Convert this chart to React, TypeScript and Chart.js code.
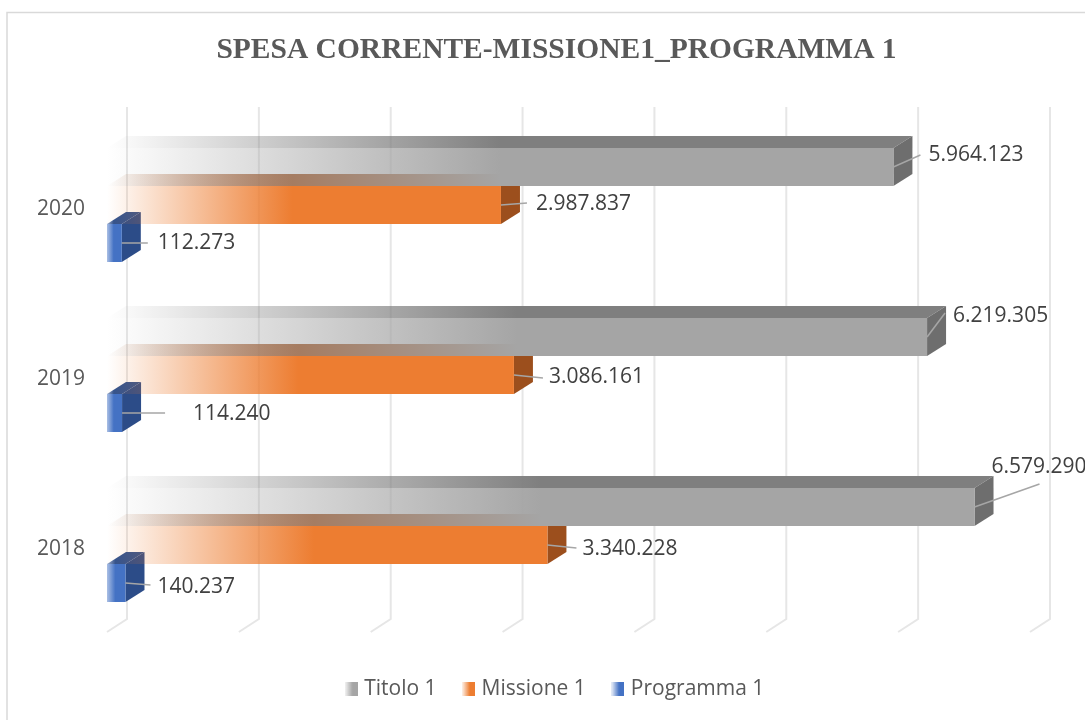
import React, { useEffect, useRef } from 'react';
import { Chart, registerables } from 'chart.js';

Chart.register(...registerables);

// ---- data ----
const chartTitle = 'SPESA CORRENTE-MISSIONE1_PROGRAMMA 1';
const categories = ['2020', '2019', '2018'];
const seriesNames = ['Titolo 1', 'Missione 1', 'Programma 1'];
const titolo = [5964123, 6219305, 6579290];
const missione = [2987837, 3086161, 3340228];
const programma = [112273, 114240, 140237];
const axisMax = 7000000;
const axisStep = 1000000;

// ---- styles ----
const seriesStyle = [
  { rgb: '165,165,165', top: '127,127,127', side: '#6E6E6E', alpha0: 0, solidAt: 0.5 },
  { rgb: '237,125,49', top: '165,88,38', side: '#9C4F1D', alpha0: 0, solidAt: 0.47 },
  { rgb: '68,114,196', top: '47,82,143', side: '#2C4C88', alpha0: 0.45, solidAt: 0.45 },
];
const DEPTH_X = 19;
const DEPTH_Y = -12;
const GRID_DX = 20;
const GRID_DY = -13;

// label placement per [series][category]: text start (dx,dy) and leader end (lx,ly), relative to bar end
const labelPlacement = [
  [{ dx: 35, dy: -12, lx: 27, ly: -12 }, { dx: 26, dy: -21, lx: 18, ly: -24 }, { dx: 17, dy: -40, lx: 65, ly: -23 }],
  [{ dx: 35, dy: -1, lx: 26, ly: -2 }, { dx: 35, dy: 2, lx: 29, ly: 3 }, { dx: 35, dy: 4, lx: 29, ly: 3 }],
  [{ dx: 36, dy: 0, lx: 26, ly: 0 }, { dx: 71, dy: 1, lx: 43, ly: 0 }, { dx: 32, dy: 4, lx: 25, ly: 2 }],
];

const fmt = (v: number) => String(v).replace(/\B(?=(\d{3})+(?!\d))/g, '.');

function fade(ctx: CanvasRenderingContext2D, x0: number, x1: number, rgb: string, a0: number, solidAt: number): any {
  if (!isFinite(x0) || !isFinite(x1) || Math.abs(x1 - x0) < 0.5) return `rgb(${rgb})`;
  const g = ctx.createLinearGradient(x0, 0, x1, 0);
  g.addColorStop(0, `rgba(${rgb},${a0})`);
  g.addColorStop(solidAt, `rgba(${rgb},1)`);
  g.addColorStop(1, `rgba(${rgb},1)`);
  return g;
}

function makeMarker(rgb: string) {
  const c = document.createElement('canvas');
  c.width = 13;
  c.height = 14;
  const cx = c.getContext('2d')!;
  const g = cx.createLinearGradient(0, 0, 13, 0);
  g.addColorStop(0, `rgba(${rgb},0.1)`);
  g.addColorStop(0.6, `rgba(${rgb},1)`);
  g.addColorStop(1, `rgba(${rgb},1)`);
  cx.fillStyle = g;
  cx.fillRect(0, 0, 13, 14);
  return c;
}

const threeD = {
  id: 'threeD',
  beforeDraw(chart: any) {
    const ctx = chart.ctx;
    ctx.save();
    ctx.fillStyle = '#ffffff';
    ctx.fillRect(0, 0, chart.width, chart.height);
    ctx.strokeStyle = '#D9D9D9';
    ctx.lineWidth = 1.5;
    ctx.strokeRect(7, 12.5, 2000, 2000);
    ctx.restore();
  },
  beforeDatasetsDraw(chart: any) {
    const ctx = chart.ctx;
    const xs = chart.scales.x;
    const { top, bottom } = chart.chartArea;
    ctx.save();
    // back-wall gridlines with floor foot
    ctx.strokeStyle = '#E6E6E6';
    ctx.lineWidth = 2;
    xs.ticks.forEach((t: any) => {
      const xf = xs.getPixelForValue(t.value);
      ctx.beginPath();
      ctx.moveTo(xf + GRID_DX, top + GRID_DY);
      ctx.lineTo(xf + GRID_DX, bottom + GRID_DY + 2);
      ctx.lineTo(xf, bottom + 2);
      ctx.stroke();
    });
    // top and side faces
    chart.data.datasets.forEach((ds: any, i: number) => {
      const meta = chart.getDatasetMeta(i);
      const st = seriesStyle[i];
      meta.data.forEach((el: any) => {
        const { x, y, base, height } = el.getProps(['x', 'y', 'base', 'height'], true);
        const t = y - height / 2;
        const b = y + height / 2;
        ctx.beginPath();
        ctx.moveTo(base, t);
        ctx.lineTo(base + DEPTH_X, t + DEPTH_Y);
        ctx.lineTo(x + DEPTH_X, t + DEPTH_Y);
        ctx.lineTo(x, t);
        ctx.closePath();
        ctx.fillStyle = fade(ctx, base, x, st.top, st.alpha0, st.solidAt);
        ctx.fill();
        ctx.beginPath();
        ctx.moveTo(x, t);
        ctx.lineTo(x + DEPTH_X, t + DEPTH_Y);
        ctx.lineTo(x + DEPTH_X, b + DEPTH_Y);
        ctx.lineTo(x, b);
        ctx.closePath();
        ctx.fillStyle = st.side;
        ctx.fill();
      });
    });
    ctx.restore();
  },
  afterDatasetsDraw(chart: any) {
    const ctx = chart.ctx;
    ctx.save();
    ctx.font = '21px "Open Sans"';
    ctx.textBaseline = 'middle';
    ctx.textAlign = 'left';
    chart.data.datasets.forEach((ds: any, i: number) => {
      const meta = chart.getDatasetMeta(i);
      meta.data.forEach((el: any, j: number) => {
        const { x, y } = el.getProps(['x', 'y'], true);
        const p = labelPlacement[i][j];
        ctx.strokeStyle = '#A6A6A6';
        ctx.lineWidth = 1.5;
        ctx.beginPath();
        ctx.moveTo(x, y);
        ctx.lineTo(x + p.lx, y + p.ly);
        ctx.stroke();
        ctx.fillStyle = '#404040';
        ctx.fillText(fmt(ds.data[j]), x + p.dx, y + p.dy);
      });
    });
    ctx.restore();
  },
};

export default function App() {
  const ref = useRef<HTMLCanvasElement>(null);
  useEffect(() => {
    const markers = seriesStyle.map((s) => makeMarker(s.rgb));
    const seriesValues = [titolo, missione, programma];
    const datasets = seriesNames.map((name, i) => ({
      label: name,
      data: seriesValues[i],
      borderWidth: 0,
      backgroundColor: (c: any) => {
        const st = seriesStyle[i];
        const xs = c.chart.scales && c.chart.scales.x;
        if (!xs || c.type !== 'data' || c.raw == null) return `rgb(${st.rgb})`;
        const x0 = xs.getPixelForValue(0);
        const x1 = xs.getPixelForValue(c.raw);
        return fade(c.chart.ctx, x0, x1, st.rgb, st.alpha0, st.solidAt);
      },
    }));
    const chart = new Chart(ref.current!, {
      type: 'bar',
      data: { labels: categories, datasets },
      options: {
        responsive: false,
        animation: false,
        devicePixelRatio: 1,
        indexAxis: 'y',
        layout: { padding: { left: 83, right: 55, top: 0, bottom: 10.5 } },
        datasets: { bar: { categoryPercentage: 114 / 170, barPercentage: 1 } },
        scales: {
          x: {
            type: 'linear',
            min: 0,
            max: axisMax,
            ticks: { display: false, stepSize: axisStep },
            grid: { display: false, drawTicks: false },
            border: { display: false },
            afterFit: (s: any) => { s.height = 19; },
          },
          y: {
            type: 'category',
            grid: { display: false, drawTicks: false, tickLength: 0 },
            border: { display: false },
            ticks: { color: '#595959', font: { family: '"Open Sans"', size: 21 }, mirror: true, padding: -70, labelOffset: 4 },
            afterFit: (s: any) => { s.width = 24; },
          },
        },
        plugins: {
          title: {
            display: true,
            text: chartTitle,
            color: '#595959',
            font: { family: '"Liberation Serif"', size: 29.5, weight: 'bold' },
            padding: { top: 33, bottom: 51.6 },
          },
          legend: {
            position: 'bottom',
            labels: {
              usePointStyle: true,
              pointStyleWidth: 5,
              padding: 29.5,
              color: '#595959',
              font: { family: '"Open Sans"', size: 21 },
              generateLabels: (ch: any) => {
                const items = (Chart as any).defaults.plugins.legend.labels.generateLabels(ch);
                items.forEach((it: any, i: number) => {
                  it.pointStyle = markers[i];
                  it.lineWidth = 0;
                });
                return items;
              },
            },
          },
          tooltip: { enabled: false },
        },
      } as any,
      plugins: [threeD],
    });
    return () => chart.destroy();
  }, []);
  return (
    <div style={{ position: 'fixed', left: 0, top: 0, width: 1085, height: 720, overflow: 'hidden', background: '#fff' }}>
      <canvas ref={ref} width={1085} height={720} style={{ display: 'block', width: 1085, height: 720 }} />
    </div>
  );
}
